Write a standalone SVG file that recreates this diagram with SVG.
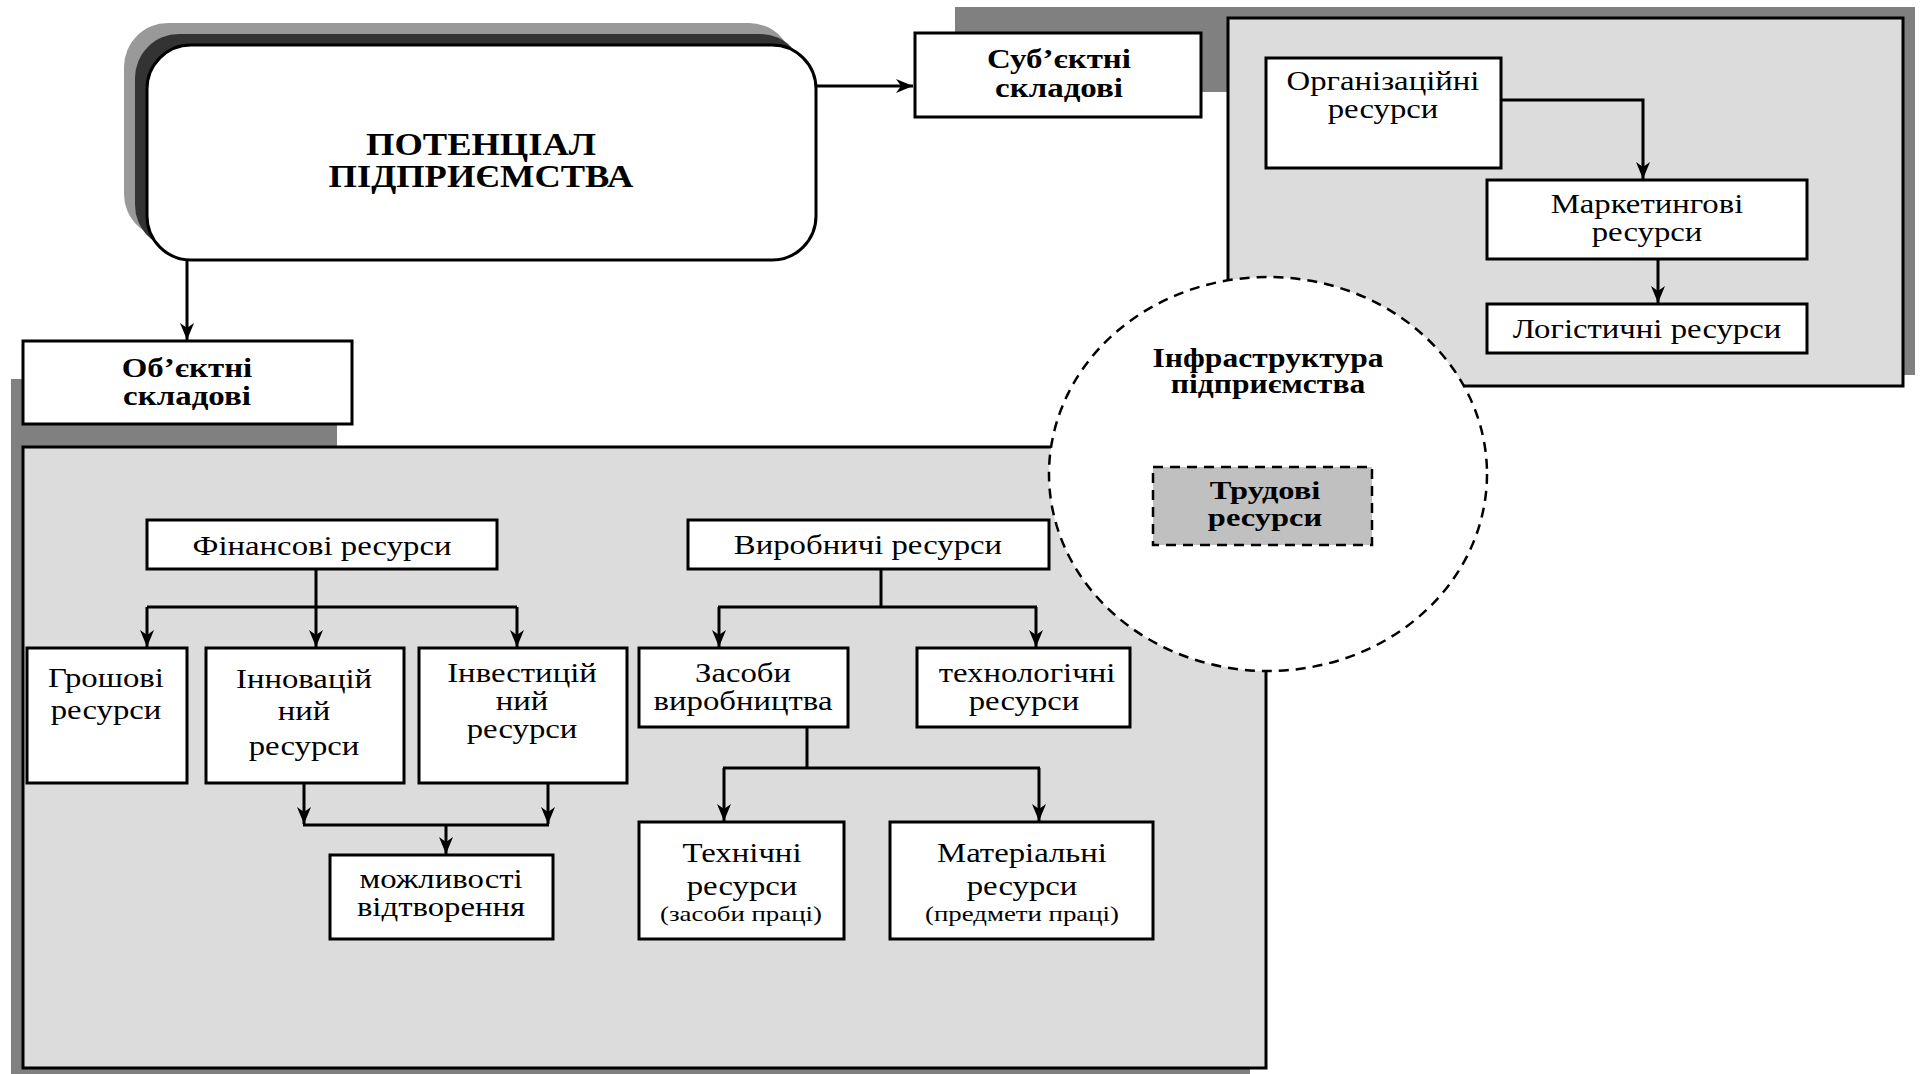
<svg xmlns="http://www.w3.org/2000/svg" width="1923" height="1074" viewBox="0 0 1923 1074">
<style>
.bx{fill:#fff;stroke:#000;stroke-width:3}
.pn{fill:#dcdcdc;stroke:#000;stroke-width:3}
.sh{fill:#808080}
.ln{fill:none;stroke:#000;stroke-width:3}
.t{font-family:"Liberation Serif","Times New Roman",serif;font-size:28px;text-anchor:middle;fill:#000}
.b{font-family:"Liberation Serif","Times New Roman",serif;font-size:27px;font-weight:bold;text-anchor:middle;fill:#000}
.h{font-size:32px}
.s{font-size:22px}
.m{font-size:25px}
</style>
<defs>
<marker id="ar" markerUnits="userSpaceOnUse" markerWidth="20" markerHeight="16" viewBox="-18 -8 20 16" refX="0" refY="0" orient="auto">
<path d="M0,0 L-17,-7 L-12,0 L-17,7 Z" fill="#000"/>
</marker>
</defs>
<g id="shadows">
<path class="sh" d="M955,7 H1915 V375 H1227 V92 H955 Z"/>
<path class="sh" d="M11,379 H337 V447 H1250 V1074 H11 Z"/>
</g>
<g id="panel-subjective"><rect class="pn" x="1228" y="18" width="675" height="368"/></g>
<g id="panel-objective"><rect class="pn" x="23" y="447" width="1243" height="621"/></g>
<g id="main">
<rect x="124" y="23" width="669" height="215" rx="44" fill="#999"/>
<rect x="135" y="34" width="669" height="215" rx="44" fill="#333"/>
<rect class="bx" x="147" y="45" width="669" height="215" rx="44"/>
<text class="b h" transform="translate(481,155) scale(1.14,1)">ПОТЕНЦІАЛ</text>
<text class="b h" transform="translate(481,187) scale(1.14,1)">ПІДПРИЄМСТВА</text>
</g>
<g id="subjective"><rect class="bx" x="915" y="33" width="286" height="84"/>
<text class="b" transform="translate(1059,68) scale(1.22,1)">Суб’єктні</text><text class="b" transform="translate(1059,97) scale(1.22,1)">складові</text></g>
<g id="objective"><rect class="bx" x="23" y="341" width="329" height="83"/>
<text class="b" transform="translate(187,377) scale(1.22,1)">Об’єктні</text><text class="b" transform="translate(187,405) scale(1.22,1)">складові</text></g>
<g id="org"><rect class="bx" x="1266" y="58" width="235" height="110"/>
<text class="t" transform="translate(1383,90) scale(1.17,1)">Організаційні</text><text class="t" transform="translate(1383,118) scale(1.17,1)">ресурси</text></g>
<g id="marketing"><rect class="bx" x="1487" y="180" width="320" height="79"/>
<text class="t" transform="translate(1647,213) scale(1.17,1)">Маркетингові</text><text class="t" transform="translate(1647,241) scale(1.17,1)">ресурси</text></g>
<g id="logistic"><rect class="bx" x="1487" y="304" width="320" height="49"/>
<text class="t" transform="translate(1647,338) scale(1.17,1)">Логістичні ресурси</text></g>
<g id="finance"><rect class="bx" x="147" y="520" width="350" height="49"/>
<text class="t" transform="translate(322,555) scale(1.17,1)">Фінансові ресурси</text></g>
<g id="production"><rect class="bx" x="688" y="520" width="361" height="49"/>
<text class="t" transform="translate(868,554) scale(1.17,1)">Виробничі ресурси</text></g>
<g id="money"><rect class="bx" x="27" y="648" width="160" height="135"/>
<text class="t" transform="translate(106,687) scale(1.17,1)">Грошові</text><text class="t" transform="translate(106,719) scale(1.17,1)">ресурси</text></g>
<g id="innovation"><rect class="bx" x="206" y="648" width="198" height="135"/>
<text class="t" transform="translate(304,688) scale(1.17,1)">Інновацій</text><text class="t" transform="translate(304,720) scale(1.17,1)">ний</text><text class="t" transform="translate(304,755) scale(1.17,1)">ресурси</text></g>
<g id="investment"><rect class="bx" x="419" y="648" width="208" height="135"/>
<text class="t" transform="translate(522,682) scale(1.17,1)">Інвестицій</text><text class="t" transform="translate(522,710) scale(1.17,1)">ний</text><text class="t" transform="translate(522,738) scale(1.17,1)">ресурси</text></g>
<g id="reproduction"><rect class="bx" x="330" y="855" width="223" height="84"/>
<text class="t" transform="translate(441,888) scale(1.17,1)">можливості</text><text class="t" transform="translate(441,916) scale(1.17,1)">відтворення</text></g>
<g id="means"><rect class="bx" x="639" y="648" width="209" height="79"/>
<text class="t" transform="translate(743,682) scale(1.17,1)">Засоби</text><text class="t" transform="translate(743,710) scale(1.17,1)">виробництва</text></g>
<g id="technology"><rect class="bx" x="917" y="648" width="213" height="79"/>
<text class="t" transform="translate(1027,682) scale(1.17,1)">технологічні</text><text class="t" transform="translate(1024,710) scale(1.17,1)">ресурси</text></g>
<g id="technical"><rect class="bx" x="639" y="822" width="205" height="117"/>
<text class="t" transform="translate(742,862) scale(1.17,1)">Технічні</text><text class="t" transform="translate(742,895) scale(1.17,1)">ресурси</text><text class="t s" transform="translate(741,921) scale(1.22,1)">(засоби праці)</text></g>
<g id="material"><rect class="bx" x="890" y="822" width="263" height="117"/>
<text class="t" transform="translate(1022,862) scale(1.17,1)">Матеріальні</text><text class="t" transform="translate(1022,895) scale(1.17,1)">ресурси</text><text class="t s" transform="translate(1022,921) scale(1.22,1)">(предмети праці)</text></g>
<g id="infrastructure">
<ellipse cx="1268" cy="474" rx="219" ry="197" fill="#fff" stroke="#000" stroke-width="2.5" stroke-dasharray="10,7"/>
<text class="b" transform="translate(1268,367) scale(1.17,1)">Інфраструктура</text><text class="b" transform="translate(1268,393) scale(1.17,1)">підприємства</text>
</g>
<g id="labour"><rect x="1153" y="467" width="219" height="78" fill="#c0c0c0" stroke="#000" stroke-width="2.5" stroke-dasharray="10,7"/>
<text class="b m" transform="translate(1265,499) scale(1.3,1)">Трудові</text><text class="b m" transform="translate(1265,526) scale(1.3,1)">ресурси</text></g>
<g id="connectors">
<path class="ln" d="M816,86 H913" marker-end="url(#ar)"/>
<path class="ln" d="M187,260 V340" marker-end="url(#ar)"/>
<path class="ln" d="M1501,100 H1643 V179" marker-end="url(#ar)"/>
<path class="ln" d="M1658,259 V303" marker-end="url(#ar)"/>
<path class="ln" d="M316,569 V607"/>
<path class="ln" d="M147,607 H517"/>
<path class="ln" d="M147,607 V647" marker-end="url(#ar)"/>
<path class="ln" d="M316,607 V647" marker-end="url(#ar)"/>
<path class="ln" d="M517,607 V647" marker-end="url(#ar)"/>
<path class="ln" d="M304,783 V824" marker-end="url(#ar)"/>
<path class="ln" d="M548,783 V824" marker-end="url(#ar)"/>
<path class="ln" d="M303,825 H549"/>
<path class="ln" d="M446,825 V854" marker-end="url(#ar)"/>
<path class="ln" d="M881,569 V607"/>
<path class="ln" d="M718,607 H1037"/>
<path class="ln" d="M719,607 V647" marker-end="url(#ar)"/>
<path class="ln" d="M1036,607 V647" marker-end="url(#ar)"/>
<path class="ln" d="M807,727 V768"/>
<path class="ln" d="M723,768 H1040"/>
<path class="ln" d="M724,768 V821" marker-end="url(#ar)"/>
<path class="ln" d="M1039,768 V821" marker-end="url(#ar)"/>
</g>
</svg>
